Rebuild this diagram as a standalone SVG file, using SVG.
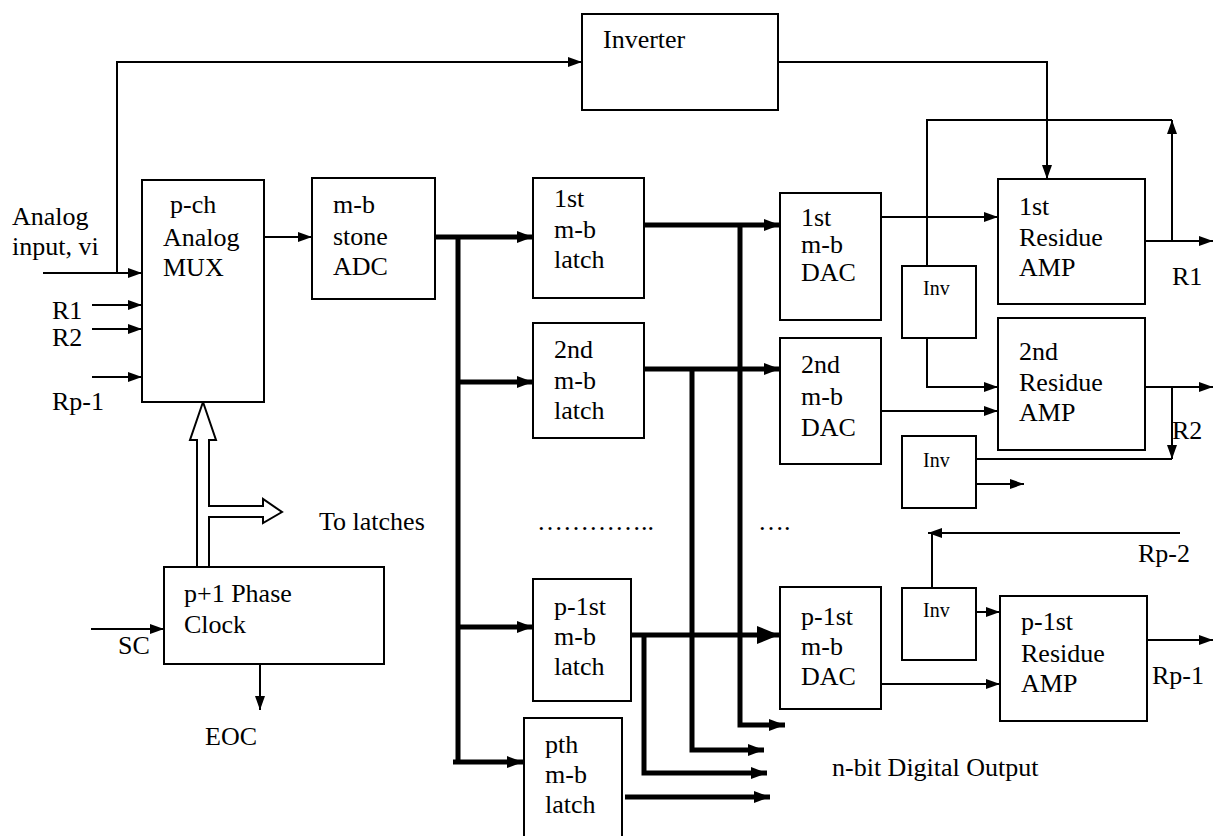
<svg xmlns="http://www.w3.org/2000/svg" width="1214" height="836" viewBox="0 0 1214 836">
<defs>
<style>
.box{fill:#fff;stroke:#000;stroke-width:2}
.t{font-family:'Times New Roman',Times,'Liberation Serif','DejaVu Serif',serif;font-size:26px;fill:#000}
.s{font-family:'Times New Roman',Times,'Liberation Serif','DejaVu Serif',serif;font-size:20px;fill:#000}
.w{fill:none;stroke:#000;stroke-width:2}
.bus{fill:none;stroke:#000;stroke-width:5}
</style>
<marker id="a" markerUnits="userSpaceOnUse" markerWidth="14" markerHeight="10" refX="14" refY="5" orient="auto"><path d="M0,0 L14,5 L0,10 z" fill="#000"/></marker>
<marker id="b" markerUnits="userSpaceOnUse" markerWidth="16" markerHeight="12" refX="16" refY="6" orient="auto"><path d="M0,0 L16,6 L0,12 z" fill="#000"/></marker>
<marker id="c" markerUnits="userSpaceOnUse" markerWidth="22" markerHeight="18" refX="22" refY="9" orient="auto"><path d="M0,0 L22,9 L0,18 z" fill="#000"/></marker>
</defs>
<rect width="1214" height="836" fill="#fff"/>

<g id="connectors">
<path class="w" d="M43,273 H142" marker-end="url(#a)"/>
<path class="w" d="M117,273 V62 H582" marker-end="url(#a)"/>
<path class="w" d="M92,305 H142" marker-end="url(#a)"/>
<path class="w" d="M92,329 H142" marker-end="url(#a)"/>
<path class="w" d="M92,377 H142" marker-end="url(#a)"/>
<path class="w" d="M264,237 H312" marker-end="url(#a)"/>
<path class="w" d="M778,62 H1047 V179" marker-end="url(#a)"/>
<path class="w" d="M877,217 H998" marker-end="url(#a)"/>
<path class="w" d="M1145,241 H1213" marker-end="url(#a)"/>
<path class="w" d="M1172,241 V120" marker-end="url(#a)"/>
<path class="w" d="M1172,120 H927 V266"/>
<path class="w" d="M927,338 V387 H998" marker-end="url(#a)"/>
<path class="w" d="M877,411 H998" marker-end="url(#a)"/>
<path class="w" d="M1145,387 H1213" marker-end="url(#a)"/>
<path class="w" d="M1172,387 V459" marker-end="url(#a)"/>
<path class="w" d="M976,459 H1172"/>
<path class="w" d="M976,484 H1024" marker-end="url(#a)"/>
<path class="w" d="M1180,533 H928" marker-end="url(#a)"/>
<path class="w" d="M932,533 V588"/>
<path class="w" d="M976,612 H1000" marker-end="url(#a)"/>
<path class="w" d="M877,684 H1000" marker-end="url(#a)"/>
<path class="w" d="M1147,640 H1213" marker-end="url(#a)"/>
<path class="w" d="M91,629 H164" marker-end="url(#a)"/>
<path class="w" d="M260,661 V710" marker-end="url(#a)"/>

<path class="bus" d="M435,237 H533" marker-end="url(#b)"/>
<path class="bus" d="M458,237 V762"/>
<path class="bus" d="M453,762 H523" marker-end="url(#b)"/>
<path class="bus" d="M458,382 H533" marker-end="url(#b)"/>
<path class="bus" d="M458,627 H533" marker-end="url(#b)"/>
<path class="bus" d="M644,225 H780" marker-end="url(#b)"/>
<path class="bus" d="M740,225 V725 H785" marker-end="url(#b)"/>
<path class="bus" d="M644,369 H780" marker-end="url(#b)"/>
<path class="bus" d="M692,369 V750 H764" marker-end="url(#b)"/>
<path class="bus" d="M631,635 H779" marker-end="url(#c)"/>
<path class="bus" d="M644,635 V773 H767" marker-end="url(#b)"/>
<path class="bus" d="M625,797 H770" marker-end="url(#b)"/>

<polygon class="box" points="197,567 197,440 190,440 203,402 216,440 209,440 209,506 263,506 263,499 282,512 263,523 263,517 209,517 209,567"/>
</g>

<g id="labels">
<text class="t" x="12" y="225">Analog</text>
<text class="t" x="12" y="255">input, vi</text>
<text class="t" x="52" y="319">R1</text>
<text class="t" x="52" y="346">R2</text>
<text class="t" x="52" y="410">Rp-1</text>
<text class="t" x="319" y="530">To latches</text>
<text class="t" x="118" y="654">SC</text>
<text class="t" x="205" y="745">EOC</text>
<text class="t" x="537" y="530">…………..</text>
<text class="t" x="758" y="530">….</text>
<text class="t" x="832" y="776">n-bit Digital Output</text>
<text class="t" x="1172" y="285">R1</text>
<text class="t" x="1172" y="439">R2</text>
<text class="t" x="1138" y="562">Rp-2</text>
<text class="t" x="1152" y="684">Rp-1</text>
</g>

<g id="mux"><rect class="box" x="142" y="180" width="122" height="222"/>
<text class="t" x="170" y="213">p-ch</text><text class="t" x="163" y="246">Analog</text><text class="t" x="163" y="276">MUX</text></g>

<g id="adc"><rect class="box" x="312" y="178" width="123" height="121"/>
<text class="t" x="333" y="213">m-b</text><text class="t" x="333" y="245">stone</text><text class="t" x="333" y="275">ADC</text></g>

<g id="inverter"><rect class="box" x="582" y="14" width="196" height="96"/>
<text class="t" x="603" y="48">Inverter</text></g>

<g id="latch1"><rect class="box" x="533" y="178" width="111" height="120"/>
<text class="t" x="554" y="207">1st</text><text class="t" x="554" y="238">m-b</text><text class="t" x="554" y="268">latch</text></g>

<g id="latch2"><rect class="box" x="533" y="323" width="111" height="115"/>
<text class="t" x="554" y="358">2nd</text><text class="t" x="554" y="389">m-b</text><text class="t" x="554" y="419">latch</text></g>

<g id="latch3"><rect class="box" x="533" y="579" width="98" height="122"/>
<text class="t" x="554" y="615">p-1st</text><text class="t" x="554" y="645">m-b</text><text class="t" x="554" y="675">latch</text></g>

<g id="latch4"><rect class="box" x="524" y="718" width="98" height="130"/>
<text class="t" x="545" y="753">pth</text><text class="t" x="545" y="783">m-b</text><text class="t" x="545" y="813">latch</text></g>

<g id="dac1"><rect class="box" x="780" y="193" width="101" height="127"/>
<text class="t" x="801" y="226">1st</text><text class="t" x="801" y="253">m-b</text><text class="t" x="801" y="281">DAC</text></g>

<g id="dac2"><rect class="box" x="780" y="338" width="101" height="126"/>
<text class="t" x="801" y="373">2nd</text><text class="t" x="801" y="405">m-b</text><text class="t" x="801" y="436">DAC</text></g>

<g id="dac3"><rect class="box" x="780" y="587" width="101" height="122"/>
<text class="t" x="801" y="625">p-1st</text><text class="t" x="801" y="655">m-b</text><text class="t" x="801" y="685">DAC</text></g>

<g id="amp1"><rect class="box" x="998" y="179" width="147" height="125"/>
<text class="t" x="1019" y="215">1st</text><text class="t" x="1019" y="246">Residue</text><text class="t" x="1019" y="276">AMP</text></g>

<g id="amp2"><rect class="box" x="998" y="318" width="147" height="132"/>
<text class="t" x="1019" y="360">2nd</text><text class="t" x="1019" y="391">Residue</text><text class="t" x="1019" y="421">AMP</text></g>

<g id="amp3"><rect class="box" x="1000" y="596" width="147" height="125"/>
<text class="t" x="1021" y="630">p-1st</text><text class="t" x="1021" y="662">Residue</text><text class="t" x="1021" y="692">AMP</text></g>

<g id="inv1"><rect class="box" x="902" y="266" width="74" height="72"/><text class="s" x="923" y="295">Inv</text></g>
<g id="inv2"><rect class="box" x="902" y="436" width="74" height="72"/><text class="s" x="923" y="467">Inv</text></g>
<g id="inv3"><rect class="box" x="902" y="588" width="74" height="72"/><text class="s" x="923" y="617">Inv</text></g>

<g id="clock"><rect class="box" x="164" y="567" width="220" height="97"/>
<text class="t" x="184" y="602">p+1 Phase</text><text class="t" x="184" y="633">Clock</text></g>
</svg>
